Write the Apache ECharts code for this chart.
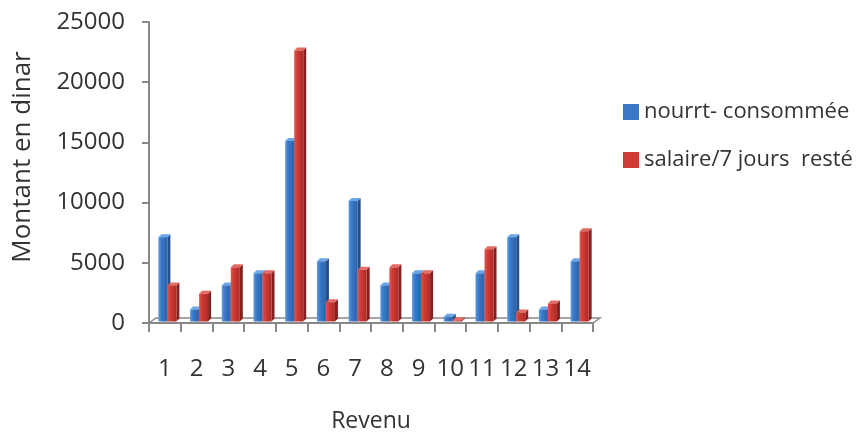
<!DOCTYPE html>
<html>
<head>
<meta charset="utf-8">
<title>Montant en dinar par revenu</title>
<script src="https://cdn.jsdelivr.net/npm/echarts@6/dist/echarts.min.js"></script>
<style>
  html, body { margin: 0; padding: 0; background: #ffffff; }
  #chart { width: 865px; height: 434px; }
</style>
</head>
<body>
<div id="chart"></div>
<script>
// Revenue classes on the horizontal axis
const categories = ['1', '2', '3', '4', '5', '6', '7', '8', '9', '10', '11', '12', '13', '14'];
// Food consumed (dinar)
const nourritureConsommee = [7000, 1000, 3000, 4000, 15000, 5000, 10000, 3000, 4000, 400, 4000, 7000, 1000, 5000];
// Remaining salary per 7 days (dinar)
const salaireReste = [3000, 2300, 4500, 4000, 22500, 1600, 4300, 4500, 4000, 100, 6000, 750, 1500, 7500];
// Value axis ticks
const yTicks = [0, 5000, 10000, 15000, 20000, 25000];

const seriesNames = ['nourrt- consommée', 'salaire/7 jours  resté'];
const FONT = '"Open Sans", "DejaVu Sans", sans-serif';
const TEXT = '#333333';
const AXIS = '#888888';

const palettes = [
  { front: ['#5b9be2', '#3a78c6', '#2c62aa'], side: '#234f8a', top: '#6aa6e8', legend: '#3a78c6' },
  { front: ['#e0564f', '#cf3a34', '#ad2b27'], side: '#852020', top: '#e56a63', legend: '#cf3a34' }
];

// Column with a thin extruded side and top to give a shaded 3D look
function columnRenderer(idx) {
  const pal = palettes[idx];
  return function (params, api) {
    const cat = api.value(0);
    const val = api.value(1);
    const base = api.coord([cat, 0]);
    const top = api.coord([cat, val]);
    const band = api.size([1, 0])[0];
    const w = band * 0.284;
    const d = 3;
    const lift = 1.5;
    const x0 = base[0] - band * 0.205 + idx * w;
    const yb = base[1] - lift;
    const yt = Math.min(top[1] - lift, yb);
    return {
      type: 'group',
      children: [
        {
          type: 'polygon',
          shape: { points: [[x0 + w, yb], [x0 + w, yt], [x0 + w + d, yt - d], [x0 + w + d, yb - d]] },
          style: { fill: pal.side }
        },
        {
          type: 'polygon',
          shape: { points: [[x0, yt], [x0 + d, yt - d], [x0 + w + d, yt - d], [x0 + w, yt]] },
          style: { fill: pal.top }
        },
        {
          type: 'rect',
          shape: { x: x0, y: yt, width: w, height: yb - yt },
          style: {
            fill: new echarts.graphic.LinearGradient(0, 0, 1, 0, [
              { offset: 0, color: pal.front[0] },
              { offset: 0.35, color: pal.front[1] },
              { offset: 1, color: pal.front[2] }
            ])
          }
        }
      ]
    };
  };
}

// Floor of the plot: slanted back edge and right edge
function floorRenderer(params, api) {
  const band = api.size([1, 0])[0];
  const first = api.coord([0, 0]);
  const last = api.coord([categories.length - 1, 0]);
  const xl = first[0] - band / 2;
  const xr = last[0] + band / 2;
  const y = first[1];
  const dx = 7, dy = 5;
  return {
    type: 'polyline',
    shape: { points: [[xl, y], [xl + dx, y - dy], [xr + dx, y - dy], [xr, y]] },
    style: { stroke: AXIS, lineWidth: 1.5, fill: null }
  };
}

const chart = echarts.init(document.getElementById('chart'), null, { renderer: 'canvas' });

chart.setOption({
  animation: false,
  backgroundColor: '#ffffff',
  textStyle: { fontFamily: FONT },
  grid: { left: 149, right: 272, top: 22, bottom: 111, containLabel: false, outerBoundsMode: 'none' },
  legend: {
    data: seriesNames,
    orient: 'vertical',
    left: 618,
    top: 96,
    itemWidth: 16,
    itemHeight: 16,
    itemGap: 26,
    icon: 'rect',
    textStyle: { fontFamily: FONT, fontSize: 22, color: TEXT }
  },
  graphic: [
    {
      type: 'text',
      x: 23,
      y: 157,
      rotation: Math.PI / 2,
      style: {
        text: 'Montant en dinar',
        fontFamily: FONT,
        fontSize: 26,
        fill: TEXT,
        align: 'center',
        verticalAlign: 'middle'
      }
    }
  ],
  xAxis: {
    type: 'category',
    data: categories,
    name: 'Revenu',
    nameLocation: 'middle',
    nameGap: 87,
    nameTextStyle: { fontFamily: FONT, fontSize: 23, color: TEXT },
    axisLine: { lineStyle: { color: AXIS, width: 2 } },
    axisTick: { show: true, length: 9, lineStyle: { color: AXIS, width: 2 } },
    axisLabel: { interval: 0, hideOverlap: false, fontFamily: FONT, fontSize: 24, color: TEXT, margin: 34 }
  },
  yAxis: {
    type: 'value',
    min: yTicks[0],
    max: yTicks[yTicks.length - 1],
    interval: yTicks[1] - yTicks[0],
    axisLine: { show: true, lineStyle: { color: AXIS, width: 2 } },
    axisTick: { show: true, length: 7, lineStyle: { color: AXIS, width: 2 } },
    splitLine: { show: false },
    axisLabel: { fontFamily: FONT, fontSize: 24, color: TEXT, margin: 24, formatter: (v) => String(v) }
  },
  series: [
    {
      name: 'floor',
      type: 'custom',
      silent: true,
      renderItem: floorRenderer,
      data: [[0, 0]],
      z: 1
    },
    {
      name: seriesNames[0],
      type: 'custom',
      renderItem: columnRenderer(0),
      itemStyle: { color: palettes[0].legend },
      encode: { x: 0, y: 1 },
      data: nourritureConsommee.map((v, i) => [i, v]),
      z: 2
    },
    {
      name: seriesNames[1],
      type: 'custom',
      renderItem: columnRenderer(1),
      itemStyle: { color: palettes[1].legend },
      encode: { x: 0, y: 1 },
      data: salaireReste.map((v, i) => [i, v]),
      z: 3
    }
  ]
});
</script>
</body>
</html>
